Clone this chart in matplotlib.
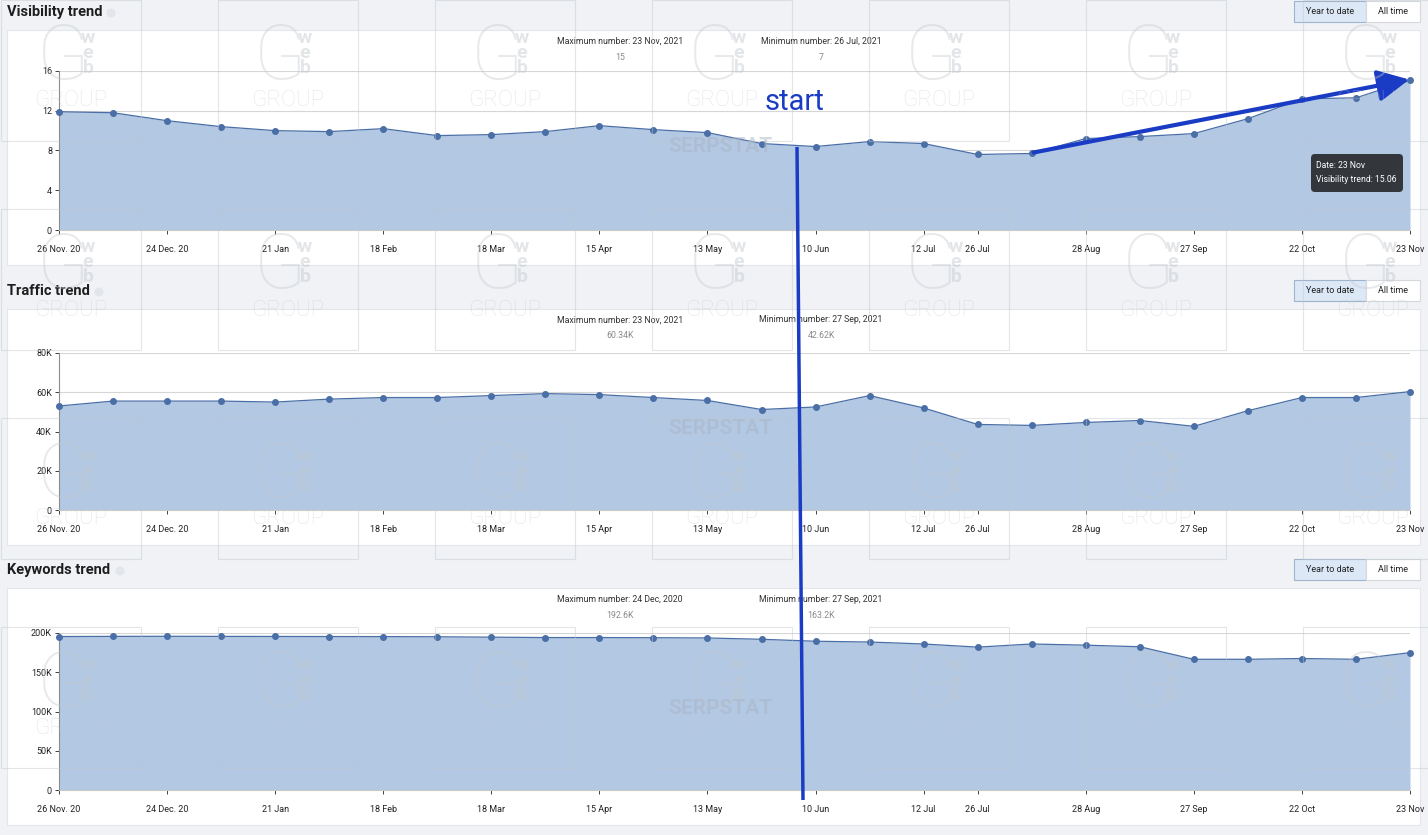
import matplotlib
matplotlib.use("Agg")
import matplotlib.pyplot as plt
from matplotlib.patches import Rectangle, FancyBboxPatch, FancyArrowPatch, Circle
import matplotlib.ticker as mt

plt.rcParams['font.family'] = ['Roboto', 'DejaVu Sans']

# ---------------- data ----------------
tick_idx = [0, 2, 4, 6, 8, 10, 12, 14, 16, 17, 19, 21, 23, 25]
tick_labels = ["26 Nov. 20", "24 Dec. 20", "21 Jan", "18 Feb", "18 Mar", "15 Apr",
               "13 May", "10 Jun", "12 Jul", "26 Jul", "28 Aug", "27 Sep", "22 Oct", "23 Nov"]

visibility = [11.9, 11.8, 11.0, 10.4, 10.0, 9.9, 10.2, 9.5, 9.6, 9.9, 10.5, 10.1, 9.8,
              8.7, 8.4, 8.9, 8.7, 7.6, 7.7, 9.2, 9.4, 9.7, 11.2, 13.2, 13.3, 15.06]
traffic = [53000, 55500, 55500, 55500, 55000, 56500, 57300, 57300, 58300, 59300, 58800,
           57300, 55800, 51200, 52500, 58300, 52000, 43600, 43100, 44600, 45600, 42620,
           50600, 57300, 57300, 60340]
keywords = [195500, 195700, 195800, 195700, 195600, 195500, 195400, 195200, 194700,
            194200, 194200, 194000, 193700, 192000, 189500, 188500, 186000, 182000,
            186000, 184500, 182500, 166500, 166500, 167500, 166500, 175000]

titles = ["Visibility trend", "Traffic trend", "Keywords trend"]
max_labels = ["Maximum number: 23 Nov, 2021", "Maximum number: 23 Nov, 2021", "Maximum number: 24 Dec, 2020"]
max_values = ["15", "60.34K", "192.6K"]
min_labels = ["Minimum number: 26 Jul, 2021", "Minimum number: 27 Sep, 2021", "Minimum number: 27 Sep, 2021"]
min_values = ["7", "42.62K", "163.2K"]
yticks = [[0, 4, 8, 12, 16], [0, 20000, 40000, 60000, 80000], [0, 50000, 100000, 150000, 200000]]
series = [visibility, traffic, keywords]

# ---------------- layout ----------------
W, H = 1428, 835
fig = plt.figure(figsize=(W / 100, H / 100), dpi=100)
fig.patch.set_facecolor('#f0f2f5')

def rect(l, t, r, b):
    return [l / W, 1 - b / H, (r - l) / W, (b - t) / H]

bg = fig.add_axes([0, 0, 1, 1], zorder=0)
bg.set_xlim(0, W); bg.set_ylim(H, 0); bg.axis('off')

panel_top = [30, 309, 588]
panel_bot = [265, 545, 825]
title_y = [12, 291, 570]
ax_top = [71, 353, 633]
ax_bot = [230, 510, 790]
AX_L, AX_R = 59, 1410

FILL = '#b2c8e3'
LINE = '#4a6ea6'

for k in range(3):
    bg.add_patch(Rectangle((7, panel_top[k]), 1413, panel_bot[k] - panel_top[k],
                           facecolor='white', edgecolor='#e3e6ea', lw=0.8))
    bg.text(7, title_y[k], titles[k], fontsize=10.5, fontweight='bold',
            color='#1e1e1e', va='center', ha='left')
    tw = {0: 104, 1: 92, 2: 113}[k]
    bg.add_patch(Circle((tw + 7, title_y[k] + 1), 4.5, facecolor='#e2e5e9', edgecolor='none'))
    by = title_y[k] - 11
    bg.add_patch(Rectangle((1294, by), 72, 21, facecolor='#dce8f6', edgecolor='#9fb3cc', lw=0.8))
    bg.add_patch(Rectangle((1366, by), 54, 21, facecolor='white', edgecolor='#d5d9de', lw=0.8))
    bg.text(1330, by + 10.5, "Year to date", fontsize=6.5, ha='center', va='center', color='#222')
    bg.text(1393, by + 10.5, "All time", fontsize=6.5, ha='center', va='center', color='#222')
    iy = panel_top[k] + 11
    bg.text(620, iy, max_labels[k], fontsize=6.3, ha='center', va='center', color='#333')
    bg.text(620, iy + 16, max_values[k], fontsize=6.3, ha='center', va='center', color='#8a8a8a')
    bg.text(821, iy, min_labels[k], fontsize=6.3, ha='center', va='center', color='#333')
    bg.text(821, iy + 16, min_values[k], fontsize=6.3, ha='center', va='center', color='#8a8a8a')

# ---------------- charts ----------------
def kfmt(v, p):
    if v == 0:
        return '0'
    return f'{int(v / 1000)}K'

x = list(range(len(visibility)))
for k in range(3):
    ax = fig.add_axes(rect(AX_L, ax_top[k], AX_R, ax_bot[k]), zorder=1)
    ax.set_facecolor('none')
    ax.fill_between(x, series[k], 0, color=FILL, lw=0, zorder=1)
    ax.plot(x, series[k], color=LINE, lw=0.9, marker='o', ms=4, mfc=LINE, mec=LINE, zorder=3,
            clip_on=False)
    ax.set_xlim(0, 25)
    ax.set_ylim(yticks[k][0], yticks[k][-1])
    ax.set_yticks(yticks[k])
    if k > 0:
        ax.yaxis.set_major_formatter(mt.FuncFormatter(kfmt))
    ax.set_xticks(tick_idx)
    ax.set_xticklabels(tick_labels)
    ax.grid(axis='y', color='#d6d6d6', lw=0.8, zorder=0)
    ax.set_axisbelow(True)
    for s in ['top', 'right']:
        ax.spines[s].set_visible(False)
    ax.spines['left'].set_color('#8c8c8c')
    ax.spines['bottom'].set_color('#c9c9c9')
    ax.spines['left'].set_linewidth(0.8)
    ax.spines['bottom'].set_linewidth(0.8)
    ax.tick_params(axis='both', labelsize=6.5, colors='#222', length=3, width=0.6, pad=3)
    ax.tick_params(axis='x', pad=8)
    ax.tick_params(axis='y', pad=2)

# ---------------- overlay (watermarks / annotations) ----------------
ov = fig.add_axes([0, 0, 1, 1], zorder=5)
ov.set_facecolor('none')
ov.set_xlim(0, W); ov.set_ylim(H, 0); ov.axis('off')

WM = '#c3c8ce'
for i in range(7):
    for j in range(4):
        x0 = 1 + 217 * i
        y0 = 209 * j
        ov.add_patch(Rectangle((x0, y0), 140, 141, facecolor='none', edgecolor=WM,
                               lw=0.8, alpha=0.45))
        ov.text(x0 + 62, y0 + 58, "G", fontsize=55, color=WM, alpha=0.4,
                ha='center', va='center', fontweight='light')
        for n, ch in enumerate("web"):
            ov.text(x0 + 87, y0 + 38 + 15 * n, ch, fontsize=14, color=WM, alpha=0.45,
                    ha='center', va='center', fontweight='bold')
        ov.text(x0 + 70, y0 + 101, "GROUP", fontsize=16, color=WM, alpha=0.45,
                ha='center', va='center', fontweight='light')

for k in range(3):
    ov.text(720, ax_top[k] + 76, "SERPSTAT", fontsize=15, color='#aab6c6', alpha=0.5,
            ha='center', va='center', fontweight='bold')

# tooltip
ov.add_patch(FancyBboxPatch((1311, 154), 92, 38, boxstyle="round,pad=0,rounding_size=4",
                            facecolor='#33373c', edgecolor='none'))
ov.text(1316, 165, "Date: 23 Nov", fontsize=6.2, color='white', va='center', ha='left')
ov.text(1316, 180, "Visibility trend: 15.06", fontsize=6.2, color='white', va='center', ha='left')

# hand-drawn blue annotations
BLUE = '#1a3cc4'
ov.plot([797, 803], [147, 800], color=BLUE, lw=2.5, solid_capstyle='butt')
ov.add_patch(FancyArrowPatch((1031, 153), (1412, 79), arrowstyle='-|>,head_length=12,head_width=6',
                             color=BLUE, lw=3, mutation_scale=1.6))
ov.text(795, 102, "start", fontsize=21, color=BLUE, ha='center', va='center')

fig.savefig('out.png', dpi=100, facecolor=fig.get_facecolor())
